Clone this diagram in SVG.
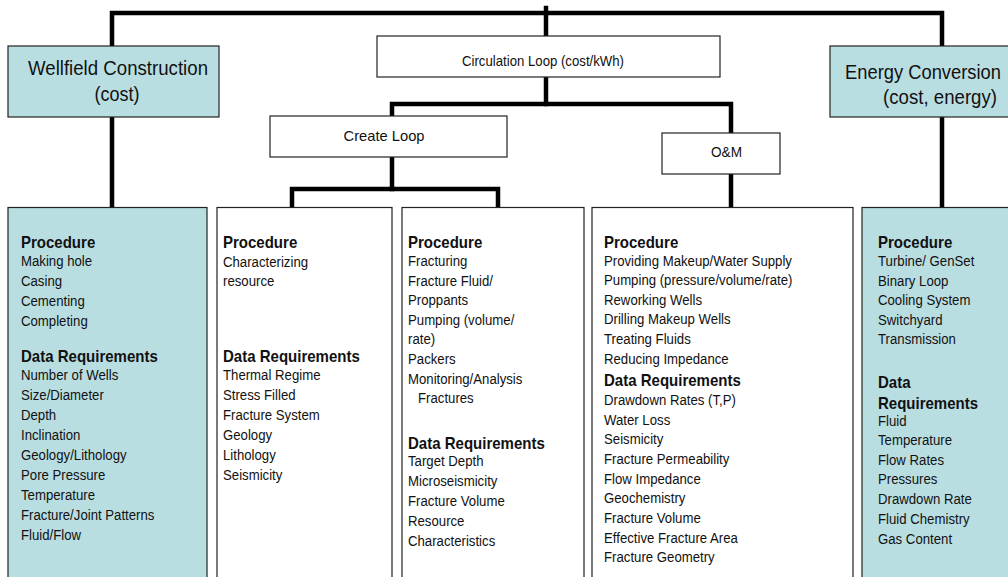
<svg xmlns="http://www.w3.org/2000/svg" width="1008" height="577" viewBox="0 0 1008 577">
  <style>
    .box { stroke: #222; stroke-width: 1.2; }
    .teal { fill: #B9DEE2; }
    .white { fill: #ffffff; }
    .conn { stroke: #000; stroke-width: 4.5; fill: none; stroke-linecap: square; }
    text { font-family: "Liberation Sans", Arial, sans-serif; fill: #111; }
    .title { font-size: 20.5px; }
    .label { font-size: 14.5px; }
    .item { font-size: 14.5px; }
    .head { font-size: 16.5px; font-weight: bold; }
  </style>
  <rect width="1008" height="577" fill="#ffffff"/>

  <!-- connectors -->
  <g id="connectors">
    <polyline class="conn" points="112,207 112,13 942,13 942,207"/>
    <line class="conn" x1="546" y1="8" x2="546" y2="36"/>
    <line class="conn" x1="546" y1="77" x2="546" y2="104"/>
    <polyline class="conn" points="392,116 392,104 731,104 731,133"/>
    <line class="conn" x1="392" y1="157" x2="392" y2="189"/>
    <polyline class="conn" points="292,207 292,189 498,189 498,207"/>
    <line class="conn" x1="731" y1="174" x2="731" y2="207"/>
  </g>

  <!-- top-level nodes -->
  <g id="wellfield">
    <rect class="box teal" x="8" y="46" width="211" height="71"/>
    <text class="title" x="118" y="75" text-anchor="middle" textLength="180" lengthAdjust="spacingAndGlyphs">Wellfield Construction</text>
    <text class="title" x="117" y="101" text-anchor="middle" textLength="45" lengthAdjust="spacingAndGlyphs">(cost)</text>
  </g>

  <g id="circulation-loop">
    <rect class="box white" x="377" y="36" width="343" height="41"/>
    <text class="label" x="543" y="66" text-anchor="middle" textLength="162" lengthAdjust="spacingAndGlyphs">Circulation Loop (cost/kWh)</text>
  </g>

  <g id="energy-conversion">
    <rect class="box teal" x="830" y="46" width="190" height="71"/>
    <text class="title" x="845" y="79" textLength="156" lengthAdjust="spacingAndGlyphs">Energy Conversion</text>
    <text class="title" x="883" y="104" textLength="114" lengthAdjust="spacingAndGlyphs">(cost, energy)</text>
  </g>

  <g id="create-loop">
    <rect class="box white" x="270" y="116" width="237" height="41"/>
    <text class="label" x="384" y="141" text-anchor="middle" textLength="81" lengthAdjust="spacingAndGlyphs">Create Loop</text>
  </g>

  <g id="om">
    <rect class="box white" x="662" y="133" width="118" height="41"/>
    <text class="label" x="726.5" y="157" text-anchor="middle" textLength="31" lengthAdjust="spacingAndGlyphs">O&amp;M</text>
  </g>

  <!-- detail columns -->
  <g id="wellfield-details">
    <rect class="box teal" x="8" y="207.5" width="199" height="380"/>
    <g transform="translate(21 0) scale(0.91 1)">
      <text class="head" x="0" y="248">Procedure</text>
      <text class="item" x="0" y="266">Making hole</text>
      <text class="item" x="0" y="286">Casing</text>
      <text class="item" x="0" y="306">Cementing</text>
      <text class="item" x="0" y="326">Completing</text>
      <text class="head" x="0" y="362">Data Requirements</text>
      <text class="item" x="0" y="380">Number of Wells</text>
      <text class="item" x="0" y="400">Size/Diameter</text>
      <text class="item" x="0" y="420">Depth</text>
      <text class="item" x="0" y="440">Inclination</text>
      <text class="item" x="0" y="460">Geology/Lithology</text>
      <text class="item" x="0" y="480">Pore Pressure</text>
      <text class="item" x="0" y="500">Temperature</text>
      <text class="item" x="0" y="520">Fracture/Joint Patterns</text>
      <text class="item" x="0" y="540">Fluid/Flow</text>
    </g>
  </g>

  <g id="characterize-details">
    <rect class="box white" x="217" y="207.5" width="175" height="380"/>
    <g transform="translate(223 0) scale(0.91 1)">
      <text class="head" x="0" y="248">Procedure</text>
      <text class="item" x="0" y="267">Characterizing</text>
      <text class="item" x="0" y="286">resource</text>
      <text class="head" x="0" y="362">Data Requirements</text>
      <text class="item" x="0" y="380">Thermal Regime</text>
      <text class="item" x="0" y="400">Stress Filled</text>
      <text class="item" x="0" y="420">Fracture System</text>
      <text class="item" x="0" y="440">Geology</text>
      <text class="item" x="0" y="460">Lithology</text>
      <text class="item" x="0" y="480">Seismicity</text>
    </g>
  </g>

  <g id="fracturing-details">
    <rect class="box white" x="402" y="207.5" width="182" height="380"/>
    <g transform="translate(408 0) scale(0.91 1)">
      <text class="head" x="0" y="248">Procedure</text>
      <text class="item" x="0" y="266">Fracturing</text>
      <text class="item" x="0" y="285.6">Fracture Fluid/</text>
      <text class="item" x="0" y="305.2">Proppants</text>
      <text class="item" x="0" y="324.8">Pumping (volume/</text>
      <text class="item" x="0" y="344.4">rate)</text>
      <text class="item" x="0" y="364">Packers</text>
      <text class="item" x="0" y="383.6">Monitoring/Analysis</text>
      <text class="item" x="11" y="403.2">Fractures</text>
      <text class="head" x="0" y="449">Data Requirements</text>
      <text class="item" x="0" y="466">Target Depth</text>
      <text class="item" x="0" y="486">Microseismicity</text>
      <text class="item" x="0" y="506">Fracture Volume</text>
      <text class="item" x="0" y="526">Resource</text>
      <text class="item" x="0" y="546">Characteristics</text>
    </g>
  </g>

  <g id="om-details">
    <rect class="box white" x="592" y="207.5" width="261" height="380"/>
    <g transform="translate(604 0) scale(0.91 1)">
      <text class="head" x="0" y="248">Procedure</text>
      <text class="item" x="0" y="266">Providing Makeup/Water Supply</text>
      <text class="item" x="0" y="285.5">Pumping (pressure/volume/rate)</text>
      <text class="item" x="0" y="305">Reworking Wells</text>
      <text class="item" x="0" y="324.5">Drilling Makeup Wells</text>
      <text class="item" x="0" y="344.3">Treating Fluids</text>
      <text class="item" x="0" y="364.3">Reducing Impedance</text>
      <text class="head" x="0" y="386.4">Data Requirements</text>
      <text class="item" x="0" y="405.3">Drawdown Rates (T,P)</text>
      <text class="item" x="0" y="424.6">Water Loss</text>
      <text class="item" x="0" y="444.3">Seismicity</text>
      <text class="item" x="0" y="464">Fracture Permeability</text>
      <text class="item" x="0" y="483.6">Flow Impedance</text>
      <text class="item" x="0" y="503.4">Geochemistry</text>
      <text class="item" x="0" y="523.2">Fracture Volume</text>
      <text class="item" x="0" y="542.8">Effective Fracture Area</text>
      <text class="item" x="0" y="562.5">Fracture Geometry</text>
    </g>
  </g>

  <g id="energy-details">
    <rect class="box teal" x="862" y="207.5" width="160" height="380"/>
    <g transform="translate(878 0) scale(0.91 1)">
      <text class="head" x="0" y="248">Procedure</text>
      <text class="item" x="0" y="266">Turbine/ GenSet</text>
      <text class="item" x="0" y="285.6">Binary Loop</text>
      <text class="item" x="0" y="305.2">Cooling System</text>
      <text class="item" x="0" y="324.8">Switchyard</text>
      <text class="item" x="0" y="344.4">Transmission</text>
      <text class="head" x="0" y="388">Data</text>
      <text class="head" x="0" y="409">Requirements</text>
      <text class="item" x="0" y="426">Fluid</text>
      <text class="item" x="0" y="445">Temperature</text>
      <text class="item" x="0" y="464.6">Flow Rates</text>
      <text class="item" x="0" y="484.4">Pressures</text>
      <text class="item" x="0" y="504.2">Drawdown Rate</text>
      <text class="item" x="0" y="524">Fluid Chemistry</text>
      <text class="item" x="0" y="543.8">Gas Content</text>
    </g>
  </g>
</svg>
